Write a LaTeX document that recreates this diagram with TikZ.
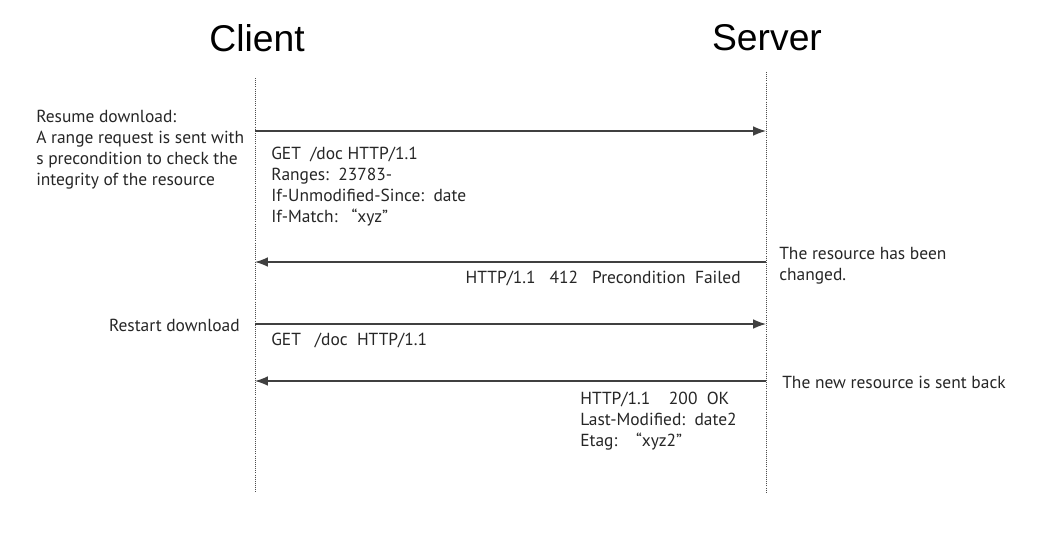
\documentclass[tikz,border=0pt]{standalone}
\usepackage{fontspec}
\setmainfont{PT Sans}
\newfontfamily\titlefont{Liberation Sans}
\usetikzlibrary{arrows.meta, positioning}

\begin{document}
\begin{tikzpicture}[
    x=0.025cm, y=-0.025cm,
    actor/.style={font=\titlefont\fontsize{26.5}{30}\selectfont, inner sep=0},
    lifeline/.style={densely dotted, black!70, line width=0.5pt},
    msg/.style={-{Latex[length=3.2mm, width=2.4mm]}, line width=0.9pt, black!75},
    note/.style={font=\fontsize{12.4}{14.8}\selectfont, align=left, inner sep=0, text=black!85}
]

\useasboundingbox (0,0) rectangle (1049,539);

% Actors and their lifelines
\node[actor] (client) at (257,38) {Client};
\node[actor] (server) at (767,38) {Server};
\coordinate (ctop) at (255,78);
\coordinate (cbot) at (255,492);
\coordinate (stop) at (766,72);
\coordinate (sbot) at (766,492);
\draw[lifeline] (ctop) -- (cbot);
\draw[lifeline] (stop) -- (sbot);

% Message end points on the lifelines
\coordinate (c1) at (255,131); \coordinate (s1) at (766,131);
\coordinate (c2) at (255,262); \coordinate (s2) at (766,262);
\coordinate (c3) at (255,324); \coordinate (s3) at (766,324);
\coordinate (c4) at (255,381); \coordinate (s4) at (766,381);

% Messages
\draw[msg] (c1) -- (s1);
\draw[msg] (s2) -- (c2);
\draw[msg] (c3) -- (s3);
\draw[msg] (s4) -- (c4);

% Client side notes (base = baseline of the last line)
\node[note, anchor=base west] (resume) at (36,185) {Resume download:\\A range request is sent with\\s precondition to check the\\integrity of the resource};
\node[note, anchor=base east] (restart) at (240,331) {Restart download};

% Message contents
\node[note, anchor=base west] (req1) at (271,222) {GET~~/doc HTTP/1.1\\Ranges:~~23783-\\If-Unmodified-Since:~~date\\If-Match:~~~“xyz”};
\node[note, anchor=base east] (resp1) at (741,283) {HTTP/1.1~~~412~~~Precondition~~Failed};
\node[note, anchor=base west] (req2) at (271,345) {GET~~~/doc~~HTTP/1.1};
\node[note, anchor=base west] (resp2) at (580,446) {HTTP/1.1~~~~200~~OK\\Last-Modified:~~date2\\Etag:~~~~“xyz2”};

% Server side notes
\node[note, anchor=base west] (changed) at (779,280) {The resource has been\\changed.};
\node[note, anchor=base west] (sentback) at (782,388) {The new resource is sent back};

\end{tikzpicture}
\end{document}
